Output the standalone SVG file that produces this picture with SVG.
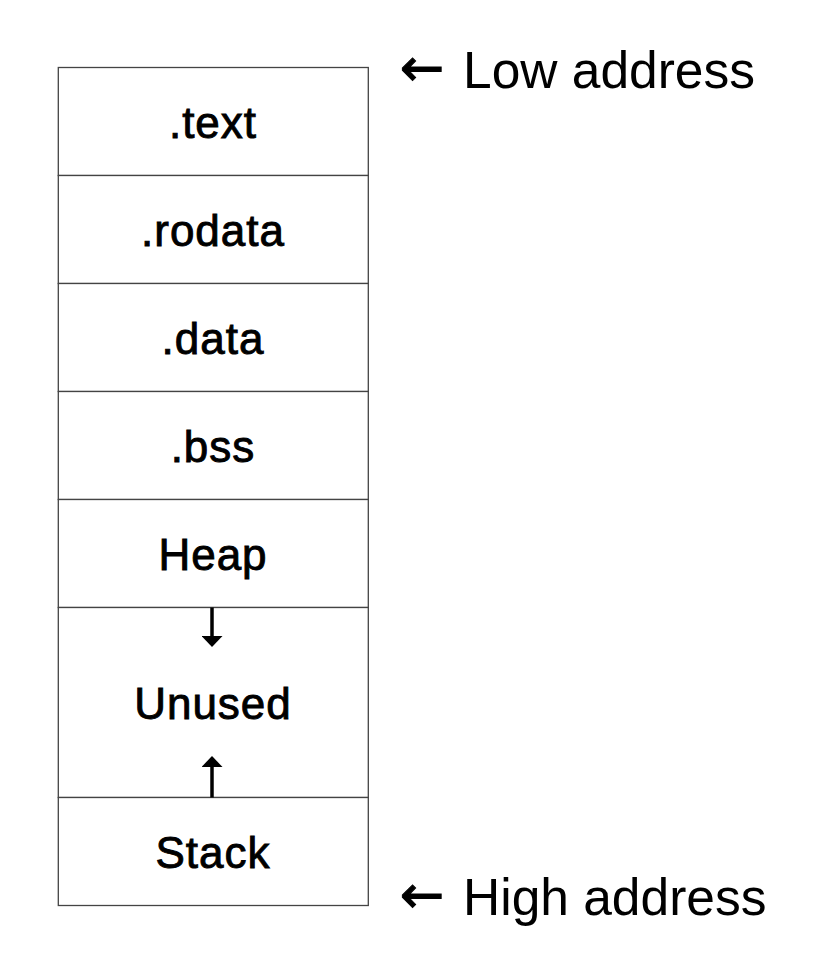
<svg xmlns="http://www.w3.org/2000/svg" width="828" height="970" viewBox="0 0 828 970">
<style>
.box{fill:#fff;stroke:#444;stroke-width:1.3}
.lbl{font-family:"Liberation Sans",Arial,sans-serif;font-size:44px;letter-spacing:1px;fill:#000;stroke:#000;stroke-width:0.9;text-anchor:middle}
.addr{font-family:"Liberation Sans",Arial,sans-serif;font-size:51.5px;fill:#000}
.arr{font-family:"DejaVu Sans",sans-serif;font-size:53px;stroke:#000;stroke-width:1}
.conn{stroke:#000;stroke-width:3.5;fill:none}
</style>
<defs>
<marker id="ah" viewBox="0 0 11 21" refX="0" refY="10.5" markerUnits="userSpaceOnUse" markerWidth="11" markerHeight="21" orient="auto">
<path d="M0,0 L11,10.5 L0,21 Z" fill="#000"/>
</marker>
</defs>
<rect width="828" height="970" fill="#fff"/>
<g id="text"><rect class="box" x="58.3" y="67.5" width="310" height="108"/><text class="lbl" x="213" y="138">.text</text></g>
<g id="rodata"><rect class="box" x="58.3" y="175.5" width="310" height="108"/><text class="lbl" x="213" y="246">.rodata</text></g>
<g id="data"><rect class="box" x="58.3" y="283.5" width="310" height="108"/><text class="lbl" x="213" y="354">.data</text></g>
<g id="bss"><rect class="box" x="58.3" y="391.5" width="310" height="108"/><text class="lbl" x="213" y="462">.bss</text></g>
<g id="heap"><rect class="box" x="58.3" y="499.5" width="310" height="108"/><text class="lbl" x="213" y="570">Heap</text></g>
<g id="unused"><rect class="box" x="58.3" y="607.5" width="310" height="190"/><text class="lbl" x="213" y="719">Unused</text></g>
<g id="stack"><rect class="box" x="58.3" y="797.5" width="310" height="108"/><text class="lbl" x="213" y="868">Stack</text></g>
<g id="connectors">
<line class="conn" x1="212" y1="607.5" x2="212" y2="636" marker-end="url(#ah)"/>
<line class="conn" x1="212" y1="797.5" x2="212" y2="767" marker-end="url(#ah)"/>
</g>
<g id="low-address"><text class="addr" y="88"><tspan class="arr" x="400" dy="-2">←</tspan><tspan x="463" dy="2">Low address</tspan></text></g>
<g id="high-address"><text class="addr" y="915"><tspan class="arr" x="400" dy="-2">←</tspan><tspan x="463" dy="2">High address</tspan></text></g>
</svg>
